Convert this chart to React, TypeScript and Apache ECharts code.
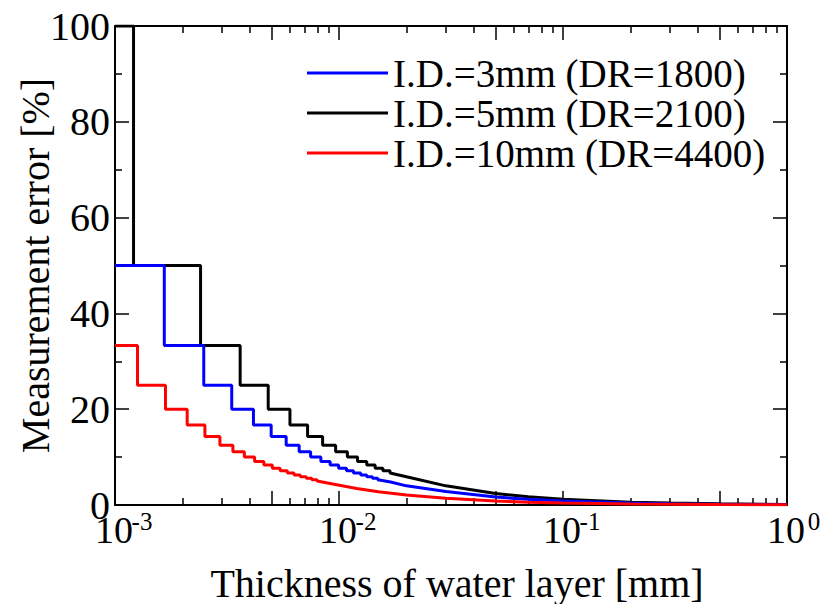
import React, { useEffect, useRef } from 'react';
import * as echarts from 'echarts';

const FONT = '"Liberation Serif", "Times New Roman", Times, serif';

const seriesNames = ['I.D.=3mm (DR=1800)', 'I.D.=5mm (DR=2100)', 'I.D.=10mm (DR=4400)'];
const seriesColors = ['#0000ff', '#000000', '#ff0000'];

// I.D.=3mm (DR=1800) — blue
const blueEdges = [0.00166, 0.00249, 0.00332, 0.00415, 0.00498, 0.00581, 0.00664, 0.00747, 0.0083, 0.00913, 0.00996, 0.0108, 0.0116, 0.0125, 0.0133, 0.0141, 0.0149];
const blueLevels = [50, 33.3, 25, 20, 16.7, 14.3, 12.5, 11.1, 10, 9.09, 8.33, 7.69, 7.14, 6.67, 6.25, 5.88, 5.56, 5.26];
const blueTailX = [0.017, 0.02, 0.03, 0.05, 0.07, 0.1, 0.2, 0.3, 0.5, 1];
const blueTailY = [4.8, 4.0, 2.8, 1.66, 1.19, 0.83, 0.41, 0.28, 0.17, 0.08];

// I.D.=5mm (DR=2100) — black
const blackEdges = [0.00121, 0.00241, 0.00362, 0.00483, 0.00604, 0.00724, 0.00845, 0.00966, 0.0109, 0.0121, 0.0133, 0.0145, 0.0157, 0.0169];
const blackLevels = [100, 50, 33.3, 25, 20, 16.7, 14.3, 12.5, 11.1, 10, 9.09, 8.33, 7.69, 7.14, 6.67];
const blackTailX = [0.02, 0.03, 0.05, 0.07, 0.1, 0.2, 0.3, 0.5, 1];
const blackTailY = [5.9, 4.0, 2.4, 1.7, 1.2, 0.6, 0.4, 0.24, 0.12];

// I.D.=10mm (DR=4400) — red
const redEdges = [0.00126, 0.00168, 0.0021, 0.00252, 0.00294, 0.00336, 0.00378, 0.0042, 0.00462, 0.00504, 0.00546, 0.00588, 0.0063, 0.00672, 0.00714, 0.00756, 0.00798];
const redLevels = [33.3, 25, 20, 16.7, 14.3, 12.5, 11.1, 10, 9.09, 8.33, 7.69, 7.14, 6.67, 6.25, 5.88, 5.56, 5.26, 5.0];
const redTailX = [0.009, 0.012, 0.015, 0.02, 0.03, 0.05, 0.07, 0.1, 0.2, 0.5, 1];
const redTailY = [4.55, 3.45, 2.78, 2.08, 1.39, 0.83, 0.6, 0.42, 0.21, 0.08, 0.04];

const xMin = 0.001;
const xMax = 1;
const xLabelValues = [0.001, 0.01, 0.1, 1];
const xMajorTickValues = [0.001, 0.005, 0.01, 0.05, 0.1, 0.5, 1];
const xMinorTickValues = [
  0.002, 0.003, 0.004, 0.006, 0.007, 0.008, 0.009,
  0.02, 0.03, 0.04, 0.06, 0.07, 0.08, 0.09,
  0.2, 0.3, 0.4, 0.6, 0.7, 0.8, 0.9,
];
const yMin = 0;
const yMax = 100;
const yInterval = 20;

function buildSteps(levels: number[], edges: number[], tailX: number[], tailY: number[]) {
  const pts: number[][] = [[xMin, levels[0]]];
  edges.forEach((e, i) => {
    pts.push([e, levels[i]]);
    pts.push([e, levels[i + 1]]);
  });
  tailX.forEach((x, i) => pts.push([x, tailY[i]]));
  return pts;
}

const SUPW = 14;

export default function App() {
  const ref = useRef<HTMLDivElement>(null);
  useEffect(() => {
    if (!ref.current) return;
    const chart = echarts.init(ref.current, null, { renderer: 'svg' });
    const lineCol = '#000';
    const xBase = {
      type: 'log' as const,
      logBase: 10,
      min: xMin,
      max: xMax,
      gridIndex: 0,
      splitLine: { show: false },
      minorTick: { show: false },
      minorSplitLine: { show: false },
    };
    const xAxes = [
      {
        ...xBase,
        position: 'bottom',
        axisLine: { show: true, lineStyle: { color: lineCol, width: 2 } },
        axisTick: { show: true, inside: true, length: 14, customValues: xMajorTickValues, lineStyle: { color: lineCol, width: 1.5 } },
        axisLabel: {
          show: true,
          margin: 4,
          customValues: xLabelValues,
          formatter: (v: number) => {
            const e = Math.round(Math.log10(v));
            return `{p|}{b|10}{s|${e}}`;
          },
          rich: {
            p: { width: SUPW },
            b: { fontFamily: FONT, fontSize: 38, color: '#000', lineHeight: 40, verticalAlign: 'bottom' },
            s: { fontFamily: FONT, fontSize: 25, color: '#000', width: SUPW, lineHeight: 25, verticalAlign: 'top', padding: [0, 0, 0, 2] },
          },
        },
        name: 'Thickness of water layer [mm]',
        nameLocation: 'middle',
        nameGap: 58,
        nameMoveOverlap: false,
        nameTextStyle: { fontFamily: FONT, fontSize: 40, color: '#000', padding: [0, 0, 0, 12] },
      },
      {
        ...xBase,
        position: 'bottom',
        axisLine: { show: false },
        axisTick: { show: true, inside: true, length: 7, customValues: xMinorTickValues, lineStyle: { color: lineCol, width: 1.5 } },
        axisLabel: { show: false },
      },
      {
        ...xBase,
        position: 'top',
        axisLine: { show: true, lineStyle: { color: lineCol, width: 2 } },
        axisTick: { show: true, inside: true, length: 14, customValues: xMajorTickValues, lineStyle: { color: lineCol, width: 1.5 } },
        axisLabel: { show: false },
      },
      {
        ...xBase,
        position: 'top',
        axisLine: { show: false },
        axisTick: { show: true, inside: true, length: 7, customValues: xMinorTickValues, lineStyle: { color: lineCol, width: 1.5 } },
        axisLabel: { show: false },
      },
    ];
    const yBase = {
      type: 'value' as const,
      min: yMin,
      max: yMax,
      interval: yInterval,
      splitLine: { show: false },
      axisLine: { show: true, lineStyle: { color: lineCol, width: 2 } },
      axisTick: { show: true, inside: true, length: 14, lineStyle: { color: lineCol, width: 1.5 } },
      minorTick: { show: true, splitNumber: 2, length: 7, lineStyle: { color: lineCol, width: 1.5 } },
    };
    const yAxes = [
      {
        ...yBase,
        position: 'left',
        axisLabel: { show: true, margin: 5, fontFamily: FONT, fontSize: 40, color: '#000' },
        name: 'Measurement error [%]',
        nameLocation: 'middle',
        nameGap: 60,
        nameMoveOverlap: false,
        nameTextStyle: { fontFamily: FONT, fontSize: 40, color: '#000' },
      },
      {
        ...yBase,
        position: 'right',
        axisLabel: { show: false },
      },
    ];

    const data = [
      buildSteps(blueLevels, blueEdges, blueTailX, blueTailY),
      buildSteps(blackLevels, blackEdges, blackTailX, blackTailY),
      buildSteps(redLevels, redEdges, redTailX, redTailY),
    ];
    const drawOrder = [1, 0, 2];
    const series = drawOrder.map((i) => ({
      name: seriesNames[i],
      type: 'line',
      xAxisIndex: 0,
      yAxisIndex: 0,
      data: data[i],
      showSymbol: false,
      symbol: 'none',
      clip: true,
      lineStyle: { color: seriesColors[i], width: 3 },
      itemStyle: { color: seriesColors[i] },
    }));

    chart.setOption({
      animation: false,
      backgroundColor: '#fff',
      grid: { left: 115, right: 34, top: 26, bottom: 99, containLabel: false, outerBoundsMode: 'none' },
      xAxis: xAxes,
      yAxis: yAxes,
      legend: {
        data: seriesNames,
        orient: 'vertical',
        left: 307,
        top: 53,
        padding: 0,
        itemWidth: 81,
        itemHeight: 3,
        itemGap: 0,
        icon: 'rect',
        textStyle: { fontFamily: FONT, fontSize: 39, color: '#000', lineHeight: 40 },
      },
      series,
    });
    return () => chart.dispose();
  }, []);
  return <div ref={ref} style={{ position: 'absolute', left: 0, top: 0, width: 821, height: 604 }} />;
}
